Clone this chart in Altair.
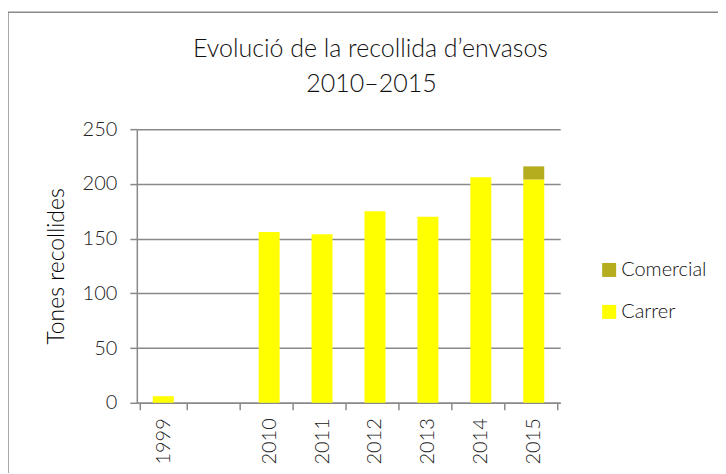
import altair as alt
import pandas as pd

years = ["1999", " ", "2010", "2011", "2012", "2013", "2014", "2015"]
data_years = ["1999", "2010", "2011", "2012", "2013", "2014", "2015"]
carrer = [6, 156, 154, 175, 170, 206, 204]
comercial = [0, 0, 0, 0, 0, 0, 12]
series = ["Comercial", "Carrer"]
colors = ["#B5AC1E", "#FFFF00"]
title_lines = ["Evolució de la recollida d’envasos", "2010–2015"]

rows = []
for y, c, m in zip(data_years, carrer, comercial):
    rows.append({"any": y, "serie": "Carrer", "tones": c, "ordre": 0})
    rows.append({"any": y, "serie": "Comercial", "tones": m, "ordre": 1})
df = pd.DataFrame(rows)
one = pd.DataFrame({"k": [0]})

FONT = "Lato"
GRAY = "#898989"

bars = alt.Chart(df).mark_bar(size=21).encode(
    x=alt.X("any:N", scale=alt.Scale(domain=years), sort=years,
            axis=alt.Axis(title=None, labelAngle=-90, tickBand="extent",
                          tickSize=7, labelPadding=8, labelFontSize=20,
                          labelFont=FONT, labelFontWeight=300, labelColor="#222",
                          domainColor=GRAY, tickColor=GRAY, domainWidth=1.5,
                          tickWidth=1.5, grid=False)),
    y=alt.Y("tones:Q", stack="zero",
            scale=alt.Scale(domain=[0, 250], nice=False),
            axis=alt.Axis(title="Tones recollides", values=[0, 50, 100, 150, 200, 250],
                          tickSize=7, labelPadding=13, labelFontSize=20,
                          labelFont=FONT, labelFontWeight=300, labelColor="#222",
                          titleFont=FONT, titleFontSize=23, titleFontWeight=300,
                          titleColor="#000", titlePadding=14,
                          domainColor=GRAY, tickColor=GRAY, gridColor=GRAY,
                          domainWidth=1.5, tickWidth=1.5, gridWidth=1.5,
                          grid=True)),
    color=alt.Color("serie:N", scale=alt.Scale(domain=series, range=colors),
                    legend=alt.Legend(title=None, orient="none", legendX=463,
                                      legendY=131, symbolType="square",
                                      symbolSize=196, symbolStrokeWidth=0,
                                      labelFont=FONT, labelFontSize=20,
                                      labelFontWeight=300,
                                      labelColor="#111", rowPadding=22,
                                      labelOffset=2)),
    order=alt.Order("ordre:Q"),
)

border_top = alt.Chart(one).mark_rule(color=GRAY, strokeWidth=1.5).encode(
    x=alt.value(-129), x2=alt.value(700), y=alt.value(-117))
border_left = alt.Chart(one).mark_rule(color=GRAY, strokeWidth=1.5).encode(
    x=alt.value(-129), y=alt.value(-117), y2=alt.value(400))

title1 = alt.Chart(one).mark_text(text=title_lines[0], font=FONT, fontSize=25,
                                  fontWeight=300, color="#111",
                                  align="center", baseline="alphabetic").encode(
    x=alt.value(234), y=alt.value(-72))
title2 = alt.Chart(one).mark_text(text=title_lines[1], font=FONT, fontSize=25,
                                  fontWeight=300, color="#111",
                                  align="center", baseline="alphabetic").encode(
    x=alt.value(235), y=alt.value(-37))

chart = alt.layer(bars, border_top, border_left, title1, title2).properties(
    width=424, height=274,
    padding={"left": 129, "top": 121, "right": 158, "bottom": 70},
    autosize=alt.AutoSizeParams(type="none"),
).configure_view(stroke=None)

chart.save("out.html", embed_options={"renderer": "svg", "actions": False})
